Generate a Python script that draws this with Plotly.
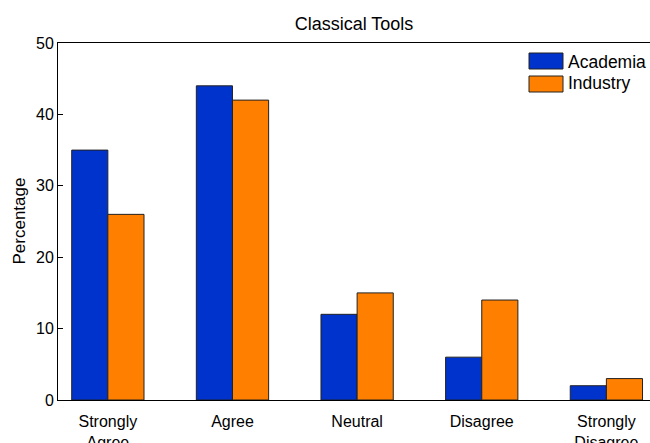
#--------------------- Packages
import plotly.graph_objects as go

#--------------------- Data
categories = ["Strongly<br>Agree", "Agree", "Neutral", "Disagree", "Strongly<br>Disagree"]
academia = [35, 44, 12, 6, 2]
industry = [26, 42, 15, 14, 3]
y_ticks = [0, 10, 20, 30, 40, 50]

#--------------------- Layout helpers (pixel -> paper)
W, H = 650, 443
L, R, T, B = 58, 0, 43, 43
PW, PH = W - L - R, H - T - B


def px(x):
    return (x - L) / PW


def py(y):
    return (H - B - y) / PH


FONT = "Liberation Sans, Arial, Helvetica, sans-serif"
BLUE = "#0033cc"
ORANGE = "#ff8000"

fig = go.Figure()

# Academia
fig.add_trace(go.Bar(
    x=categories, y=academia, name="Academia",
    marker=dict(color=BLUE, line=dict(color="#222222", width=1)),
    showlegend=False))

# Industry
fig.add_trace(go.Bar(
    x=categories, y=industry, name="Industry",
    marker=dict(color=ORANGE, line=dict(color="#222222", width=1)),
    showlegend=False))

# Axes
fig.update_xaxes(
    range=[-0.4, 4.35],
    showline=True, linecolor="black", linewidth=1, mirror=True,
    showgrid=False, zeroline=False, ticks="",
    ticklabelstandoff=7,
    tickfont=dict(size=16, color="black"))

fig.update_yaxes(
    range=[0, 50], tickvals=y_ticks,
    showline=True, linecolor="black", linewidth=1, mirror=False,
    showgrid=False, zeroline=False,
    ticks="inside", ticklen=5, tickcolor="black", tickwidth=1,
    tickfont=dict(size=16, color="black"))

# Hand made legend (wide swatches, like the original)
legend_items = [("Academia", BLUE, 53, 69, 62), ("Industry", ORANGE, 76, 92, 83)]
for label, color, y0, y1, yt in legend_items:
    fig.add_shape(type="rect", xref="paper", yref="paper",
                  x0=px(529), x1=px(563), y0=py(y1), y1=py(y0),
                  fillcolor=color, line=dict(color="#222222", width=1))
    fig.add_annotation(text=label, xref="paper", yref="paper",
                       x=px(566), y=py(yt), xanchor="left", yanchor="middle",
                       showarrow=False, font=dict(size=17.5, color="black"))

# Y axis title
fig.add_annotation(text="Percentage", xref="paper", yref="paper",
                   x=px(19), y=0.5, xanchor="center", yanchor="middle",
                   textangle=-90, showarrow=False,
                   font=dict(size=17, color="black"))

fig.update_layout(
    width=W, height=H,
    margin=dict(l=L, r=R, t=T, b=B, autoexpand=False),
    barmode="group", bargap=0.42, bargroupgap=0,
    plot_bgcolor="white", paper_bgcolor="white",
    font=dict(family=FONT, color="black"),
    title=dict(text="Classical Tools", x=0.5, xref="paper",
               y=1 - 24 / H, yanchor="middle",
               font=dict(size=18, color="black")))

# page without the default body margin, so the figure sits at the corner
fig.write_html("out.html",
               config={"displayModeBar": False},
               post_script="document.body.style.margin='0';"
                           "document.body.style.overflow='hidden';")
